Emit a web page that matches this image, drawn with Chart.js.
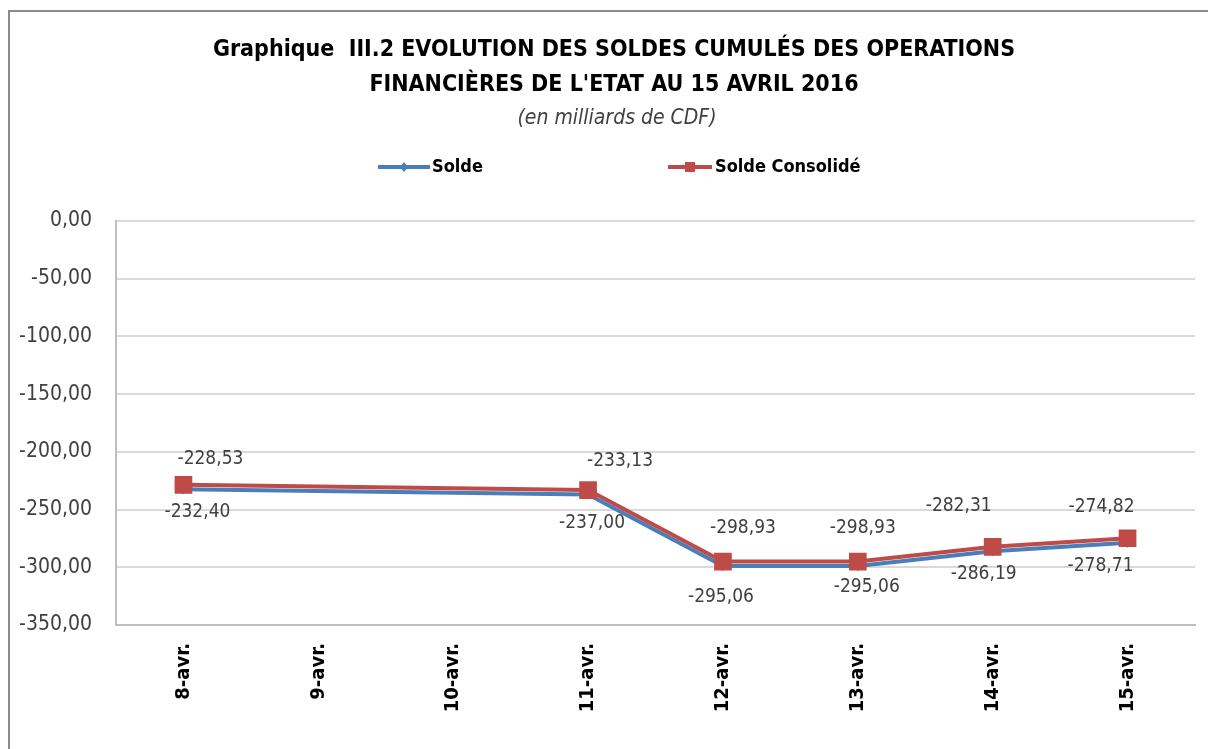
<!DOCTYPE html>
<html>
<head>
<meta charset="utf-8">
<script src="https://cdn.jsdelivr.net/npm/chart.js@4/dist/chart.umd.min.js"></script>
<style>
  html, body { margin: 0; padding: 0; background: #fff; }
  #wrap { width: 1208px; height: 749px; position: relative; }
</style>
</head>
<body>
<div id="wrap"><canvas id="chart" width="1208" height="749"></canvas></div>
<script>
// data
const days = ["8-avr.", "9-avr.", "10-avr.", "11-avr.", "12-avr.", "13-avr.", "14-avr.", "15-avr."];
const solde = [-232.40, null, null, -237.00, -298.93, -298.93, -286.19, -278.71];
const soldeConsolide = [-228.53, null, null, -233.13, -295.06, -295.06, -282.31, -274.82];
// data label texts as printed on the chart
const soldeLabels = ["-232,40", "", "", "-237,00", "-295,06", "-295,06", "-286,19", "-278,71"];
const consolideLabels = ["-228,53", "", "", "-233,13", "-298,93", "-298,93", "-282,31", "-274,82"];
const titleLines = ["Graphique  III.2 EVOLUTION DES SOLDES CUMULÉS DES OPERATIONS", "FINANCIÈRES DE L'ETAT AU 15 AVRIL 2016"];
const subTitle = "(en milliards de CDF)";

const FONT = "'Liberation Sans Narrow', 'DejaVu Sans Condensed', 'Liberation Sans', sans-serif";
const BLUE = "#4a7ebb";
const RED = "#be4b48";
const TXT = "#404040";

// label offsets from the point (moved by hand in the original)
const soldeOff = [[14, 23], null, null, [4, 28], [-2, 31], [9, 21], [-9, 23], [-27, 23]];
const consOff = [[27, -26], null, null, [32, -29], [20, -34], [5, -34], [-34, -41], [-26, -31]];

const decor = {
  id: "decor",
  beforeDraw(chart) {
    const c = chart.ctx;
    c.save();
    c.fillStyle = "#fff";
    c.fillRect(0, 0, chart.width, chart.height);
    c.strokeStyle = "#8a8a8a";
    c.lineWidth = 2;
    c.beginPath();
    c.moveTo(9, chart.height);
    c.lineTo(9, 11);
    c.lineTo(chart.width, 11);
    c.stroke();

    c.fillStyle = "#000";
    c.textAlign = "center";
    c.textBaseline = "middle";
    c.font = "bold 23px " + FONT;
    c.fillText(titleLines[0], 614, 50);
    c.fillText(titleLines[1], 614, 85);
    c.fillStyle = TXT;
    c.font = "italic 21px " + FONT;
    c.fillText(subTitle, 617, 119);

    // legend
    c.lineWidth = 4;
    c.strokeStyle = BLUE;
    c.beginPath(); c.moveTo(378, 167); c.lineTo(430, 167); c.stroke();
    c.fillStyle = BLUE;
    c.beginPath();
    c.moveTo(404, 162); c.lineTo(408, 167); c.lineTo(404, 172); c.lineTo(400, 167);
    c.closePath(); c.fill();
    c.strokeStyle = RED;
    c.beginPath(); c.moveTo(668, 167); c.lineTo(712, 167); c.stroke();
    c.fillStyle = RED;
    c.fillRect(685, 162, 10, 10);
    c.fillStyle = "#000";
    c.textAlign = "left";
    c.font = "bold 18px " + FONT;
    c.fillText("Solde", 432, 167);
    c.fillText("Solde Consolidé", 715, 167);
    c.restore();
  },
  afterDatasetsDraw(chart) {
    const c = chart.ctx;
    c.save();
    c.font = "19px " + FONT;
    c.fillStyle = TXT;
    c.textAlign = "center";
    c.textBaseline = "middle";
    const draw = (dsIndex, texts, offs) => {
      const meta = chart.getDatasetMeta(dsIndex);
      meta.data.forEach((p, i) => {
        if (!texts[i] || !offs[i]) return;
        c.fillText(texts[i], p.x + offs[i][0], p.y + offs[i][1]);
      });
    };
    draw(0, soldeLabels, soldeOff);
    draw(1, consolideLabels, consOff);
    c.restore();
  }
};

new Chart(document.getElementById("chart"), {
  type: "line",
  data: {
    labels: days,
    datasets: [
      {
        label: "Solde",
        data: solde,
        borderColor: BLUE,
        backgroundColor: BLUE,
        borderWidth: 4,
        pointStyle: "rectRot",
        pointRadius: 5,
        pointBorderWidth: 0,
        spanGaps: true,
        tension: 0,
        order: 1
      },
      {
        label: "Solde Consolidé",
        data: soldeConsolide,
        borderColor: RED,
        backgroundColor: RED,
        borderWidth: 4,
        pointStyle: "rect",
        pointRadius: 12.5,
        pointBorderWidth: 0,
        spanGaps: true,
        tension: 0,
        order: 0
      }
    ]
  },
  options: {
    responsive: false,
    animation: false,
    layout: { padding: { left: 0, right: 13, top: 221, bottom: 0 } },
    plugins: {
      legend: { display: false },
      title: { display: false },
      tooltip: { enabled: false }
    },
    scales: {
      x: {
        offset: true,
        grid: { display: false, drawTicks: false },
        border: { display: true, color: "#bfbfbf", width: 2 },
        ticks: {
          minRotation: 90,
          maxRotation: 90,
          padding: 18,
          color: "#000",
          font: { family: FONT, size: 20, weight: "bold" }
        },
        afterFit(scale) { scale.height = 124; }
      },
      y: {
        min: -350,
        max: 0,
        grid: { color: "#d9d9d9", lineWidth: 2, drawTicks: false },
        border: { display: true, color: "#bfbfbf", width: 2 },
        ticks: {
          stepSize: 50,
          padding: 24,
          color: TXT,
          font: { family: FONT, size: 21 },
          callback: v => v.toFixed(2).replace(".", ",")
        },
        afterFit(scale) { scale.width = 116; }
      }
    }
  },
  plugins: [decor]
});
</script>
</body>
</html>
